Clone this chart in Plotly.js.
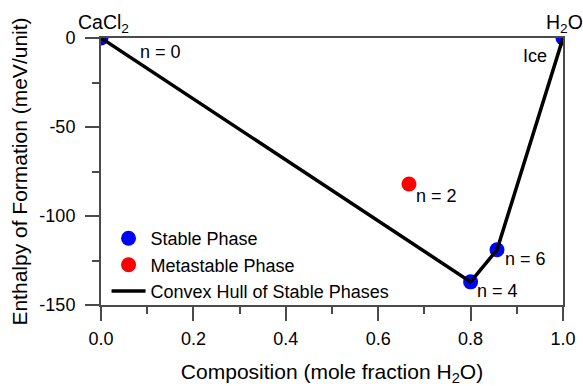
<!DOCTYPE html>
<html>
<head>
<meta charset="utf-8">
<script src="https://cdn.plot.ly/plotly-3.0.1.min.js"></script>
<style>
  html, body { margin: 0; padding: 0; background: #fff; }
  #chart { width: 583px; height: 386px; }
</style>
</head>
<body>
<div id="chart"></div>
<script>
// Hydrate compositions (mole fraction of water) and formation enthalpies (meV/unit)
const stableX = [0, 0.8, 6 / 7, 1];
const stableY = [0, -137, -119, 0];
const metastableX = [2 / 3];
const metastableY = [-82];

// Convex hull through the stable phases
const hullX = [0, 0.8, 6 / 7, 1];
const hullY = [0, -137, -119, 0];

// Point labels
const labelText = ['n = 0', 'n = 2', 'n = 4', 'n = 6', 'Ice'];
const labelX = [0, 2 / 3, 0.8, 6 / 7, 1];
const labelY = [0, -82, -137, -119, 0];

// End-member names
const endText = ['CaCl<sub>2</sub>', 'H<sub>2</sub>O'];
const endX = [0, 1];
const endY = [0, 0];

const xTicks = [0, 0.2, 0.4, 0.6, 0.8, 1.0];
const xTickText = ['0.0', '0.2', '0.4', '0.6', '0.8', '1.0'];
const yTicks = [0, -50, -100, -150];
const yTickText = ['0', '-50', '-100', '-150'];

const FONT = 'Arial, "Liberation Sans", sans-serif';
const AXIS = '#4a4a4a';

const traces = [
  {
    x: stableX, y: stableY, type: 'scatter', mode: 'markers',
    name: 'Stable Phase',
    marker: { color: '#0000ff', size: 15 },
    cliponaxis: true
  },
  {
    x: metastableX, y: metastableY, type: 'scatter', mode: 'markers',
    name: 'Metastable Phase',
    marker: { color: '#ff0000', size: 15 },
    cliponaxis: true
  },
  {
    x: hullX, y: hullY, type: 'scatter', mode: 'lines',
    name: 'Convex Hull of Stable Phases',
    line: { color: '#000', width: 3.5 },
    cliponaxis: true
  }
];

// label offsets in pixels relative to each point
const shifts = [
  { xanchor: 'left', xshift: 37, yshift: -14 },
  { xanchor: 'left', xshift: 5, yshift: -12 },
  { xanchor: 'left', xshift: 4, yshift: -9 },
  { xanchor: 'left', xshift: 6, yshift: -9 },
  { xanchor: 'right', xshift: -14, yshift: -18 }
];

const annotations = labelText.map((t, i) => ({
  x: labelX[i], y: labelY[i], xref: 'x', yref: 'y',
  text: t, showarrow: false,
  xanchor: shifts[i].xanchor, yanchor: 'middle',
  xshift: shifts[i].xshift, yshift: shifts[i].yshift,
  font: { family: FONT, size: 18, color: '#000' }
})).concat(endText.map((t, i) => ({
  x: endX[i], y: endY[i], xref: 'x', yref: 'y',
  text: t, showarrow: false,
  xanchor: 'center', yanchor: 'bottom', xshift: i === 0 ? 2 : 1, yshift: 0,
  font: { family: FONT, size: 19.5, color: '#000' }
})));

const layout = {
  width: 583, height: 386,
  margin: { l: 101, r: 20, t: 38, b: 81, pad: 0 },
  paper_bgcolor: '#fff', plot_bgcolor: '#fff',
  font: { family: FONT, size: 18, color: '#000' },
  showlegend: true,
  legend: {
    x: 0.012, y: 0.318, xanchor: 'left', yanchor: 'top',
    bgcolor: 'rgba(0,0,0,0)',
    font: { family: FONT, size: 18, color: '#000' },
    itemwidth: 34,
    tracegroupgap: 0
  },
  xaxis: {
    range: [0, 1],
    tickvals: xTicks, ticktext: xTickText,
    ticks: 'outside', ticklen: 14, tickwidth: 2, tickcolor: AXIS,
    showline: true, linecolor: AXIS, linewidth: 2, mirror: true,
    showgrid: false, zeroline: false,
    tickfont: { family: FONT, size: 18, color: '#000' },
    ticklabelstandoff: 2,
    minor: { dtick: 0.1, ticks: 'outside', ticklen: 7, tickwidth: 2, tickcolor: AXIS, showgrid: false },
    title: { text: 'Composition (mole fraction H<sub>2</sub>O)', font: { family: FONT, size: 21, color: '#000' }, standoff: 18 }
  },
  yaxis: {
    range: [-150, 0],
    tickvals: yTicks, ticktext: yTickText,
    ticks: 'outside', ticklen: 14, tickwidth: 2, tickcolor: AXIS,
    showline: true, linecolor: AXIS, linewidth: 2, mirror: true,
    showgrid: false, zeroline: false,
    tickfont: { family: FONT, size: 18, color: '#000' },
    ticklabelstandoff: 6,
    minor: { dtick: 25, ticks: 'outside', ticklen: 7, tickwidth: 2, tickcolor: AXIS, showgrid: false },
    title: { text: 'Enthalpy of Formation (meV/unit)', font: { family: FONT, size: 21, color: '#000' }, standoff: 6 }
  },
  annotations: annotations
};

Plotly.newPlot('chart', traces, layout, { displayModeBar: false, staticPlot: true });
</script>
</body>
</html>
